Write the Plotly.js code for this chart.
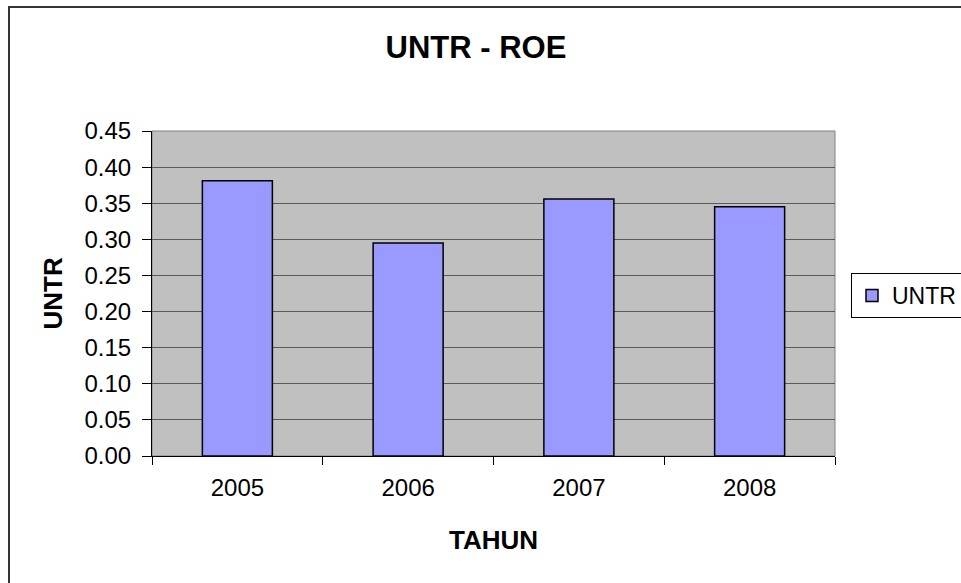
<!DOCTYPE html>
<html>
<head>
<meta charset="utf-8">
<script src="https://cdn.plot.ly/plotly-3.0.1.min.js"></script>
<style>html,body{margin:0;padding:0;background:#fff;}#chart{width:961px;height:583px;}</style>
</head>
<body>
<div id="chart"></div>
<script>
const categories = ["2005", "2006", "2007", "2008"];
const roeValues = [0.381, 0.295, 0.356, 0.345];
const seriesName = "UNTR";
const chartTitle = "UNTR - ROE";
const xTitle = "TAHUN";
const yTitle = "UNTR";
const yTickValues = [0, 0.05, 0.10, 0.15, 0.20, 0.25, 0.30, 0.35, 0.40, 0.45];

const FONT = "Liberation Sans, Arial, sans-serif";

const trace = {
  type: "bar",
  x: categories,
  y: roeValues,
  name: seriesName,
  marker: { color: "#9999FF", line: { color: "#000000", width: 1.5 } },
  showlegend: true
};

const layout = {
  width: 961, height: 583,
  margin: { l: 152, r: 126, t: 131, b: 127, pad: 0, autoexpand: false },
  paper_bgcolor: "#ffffff",
  plot_bgcolor: "#C0C0C0",
  font: { family: FONT, color: "#000", size: 24 },
  title: {
    text: "<b>" + chartTitle + "</b>",
    font: { family: FONT, size: 31, color: "#000" },
    x: 476 / 961, xref: "container", xanchor: "center",
    y: 1 - 47 / 583, yref: "container", yanchor: "middle"
  },
  bargap: 0.59,
  xaxis: {
    type: "category",
    automargin: false,
    showgrid: false,
    showline: true, linecolor: "#000", linewidth: 1,
    ticks: "outside", tickson: "boundaries", ticklen: 8, tickcolor: "#000", tickwidth: 1,
    tickfont: { family: FONT, size: 24, color: "#000" },
    ticklabelstandoff: 10,
    zeroline: false,
    fixedrange: true
  },
  yaxis: {
    automargin: false,
    range: [0, 0.45],
    tickvals: yTickValues,
    tickformat: ".2f",
    showgrid: true, gridcolor: "#5a5a5a", gridwidth: 1,
    showline: true, linecolor: "#000", linewidth: 1,
    ticks: "outside", ticklen: 9, tickcolor: "#000", tickwidth: 1,
    tickfont: { family: FONT, size: 24, color: "#000" },
    ticklabelstandoff: 6,
    zeroline: false,
    fixedrange: true
  },
  legend: {
    x: (851 - 152) / 683, xanchor: "left",
    y: (456 - 273) / 325, yanchor: "top",
    bgcolor: "#ffffff", bordercolor: "#000", borderwidth: 1,
    itemwidth: 30,
    font: { family: FONT, size: 23, color: "#000" }
  },
  annotations: [
    {
      text: "<b>" + xTitle + "</b>", showarrow: false,
      xref: "paper", yref: "paper",
      x: 0.5, y: (456 - 540) / 325, xanchor: "center", yanchor: "middle",
      font: { family: FONT, size: 26, color: "#000" }
    },
    {
      text: "<b>" + yTitle + "</b>", showarrow: false, textangle: -90,
      xref: "paper", yref: "paper",
      x: (52 - 152) / 683, y: 0.5, xanchor: "center", yanchor: "middle",
      font: { family: FONT, size: 26, color: "#000" }
    }
  ],
  shapes: [
    {
      type: "rect", xref: "paper", yref: "paper",
      x0: 0, x1: 1, y0: 0, y1: 1,
      line: { color: "#808080", width: 1 }, fillcolor: "rgba(0,0,0,0)", layer: "below"
    },
    {
      type: "rect", xref: "paper", yref: "paper",
      x0: (9 - 152) / 683, x1: (985 - 152) / 683,
      y0: (456 - 600) / 325, y1: (456 - 7) / 325,
      line: { color: "#333333", width: 2 }, fillcolor: "rgba(0,0,0,0)"
    }
  ]
};

Plotly.newPlot("chart", [trace], layout, { displayModeBar: false, staticPlot: true });
</script>
</body>
</html>
